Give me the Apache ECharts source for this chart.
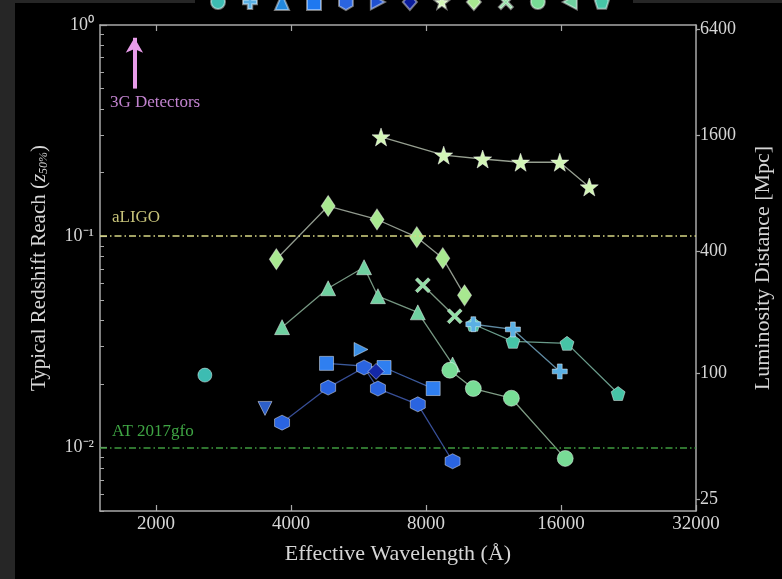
<!DOCTYPE html>
<html>
<head>
<meta charset="utf-8">
<script src="https://cdn.jsdelivr.net/npm/echarts@6/dist/echarts.min.js"></script>
<style>
  html, body { margin: 0; background: #000; }
  #main { width: 782px; height: 579px; }
</style>
</head>
<body>
<div id="main"></div>
<script>
// axis ticks
var xTicks = [2000, 4000, 8000, 16000, 32000];
var yTicks = [0.01, 0.1, 1];
var yMinor = [0.005, 0.006, 0.007, 0.008, 0.009, 0.02, 0.03, 0.04, 0.05, 0.06, 0.07, 0.08, 0.09,
  0.2, 0.3, 0.4, 0.5, 0.6, 0.7, 0.8, 0.9];
var distLabels = ["25", "100", "400", "1600", "6400"];
var distZ = [0.0057, 0.0225, 0.085, 0.30, 0.95];

// reference levels
var aligoZ = 0.1;
var gfoZ = 0.01;
var arrow3G = [[1790, 0.5], [1790, 0.87]];

// series values [wavelength (A), z]
var tealCircle = [[2570, 0.022]];
var plusPts = [[10200, 0.0383], [12500, 0.0362], [15900, 0.0229]];
var downTri = [[3500, 0.0153]];
var squares = [[4800, 0.025], [6450, 0.0239], [8300, 0.019]];
var hexagons = [[3820, 0.0131], [4840, 0.0192], [5820, 0.0239], [6250, 0.019], [7670, 0.016], [9170, 0.0086]];
var rightTri = [[5730, 0.0291]];
var darkDiamond = [[6190, 0.0229]];
var stars = [[6350, 0.295], [8760, 0.242], [10700, 0.232], [13000, 0.224], [15900, 0.224], [18500, 0.171]];
var thinDiamonds = [[3710, 0.0778], [4840, 0.139], [6220, 0.120], [7630, 0.099], [8720, 0.0787], [9750, 0.0525]];
var crosses = [[7870, 0.0586], [9270, 0.0418]];
var greenCircles = [[9040, 0.0232], [10200, 0.019], [12400, 0.0171], [16350, 0.00887]];
var upTri = [[3820, 0.0371], [4840, 0.0567], [5820, 0.0713], [6250, 0.052], [7670, 0.0436], [9170, 0.0247]];
var pentagons = [[10200, 0.0383], [12500, 0.0318], [16500, 0.0311], [21450, 0.018]];

var STAR = "path://M0,-10 L2.35,-3.24 L9.51,-3.09 L3.8,1.24 L5.88,8.09 L0,4 L-5.88,8.09 L-3.8,1.24 L-9.51,-3.09 L-2.35,-3.24 Z";
var HEX = "path://M0,-10 L8.66,-5 L8.66,5 L0,10 L-8.66,5 L-8.66,-5 Z";
var PENT = "path://M0,-10 L9.51,-3.09 L5.88,8.09 L-5.88,8.09 L-9.51,-3.09 Z";
var PLUS = "path://M-3.2,-10 L3.2,-10 L3.2,-3.2 L10,-3.2 L10,3.2 L3.2,3.2 L3.2,10 L-3.2,10 L-3.2,3.2 L-10,3.2 L-10,-3.2 L-3.2,-3.2 Z";
var XMARK = "path://M-7,-10 L0,-3 L7,-10 L10,-7 L3,0 L10,7 L7,10 L0,3 L-7,10 L-10,7 L-3,0 L-10,-7 Z";
var TRI_R = "path://M-8,-9 L9,0 L-8,9 Z";
var TRI_D = "path://M-9,-8 L9,-8 L0,9 Z";
var TRI_L = "path://M8,-9 L8,9 L-9,0 Z";

var serif = "Liberation Serif";
var txt = "#d6d6d6";
var axisCol = "#a8a8a8";

function mk(name, data, color, symbol, size, lineColor) {
  return {
    name: name,
    type: "line",
    data: data,
    symbol: symbol,
    symbolSize: size,
    showSymbol: true,
    z: 3,
    itemStyle: { color: color, borderColor: "rgba(255,255,255,0.45)", borderWidth: 1 },
    lineStyle: { color: lineColor || color, width: 1.3, opacity: 0.75 },
    emphasis: { disabled: true },
    animation: false
  };
}

var series = [
  mk("s1", tealCircle, "#3dbcb2", "circle", 14),
  mk("s13", pentagons, "#46c4a6", PENT, 14, "#8ccfb8"),
  mk("s2", plusPts, "#5ab0e4", PLUS, 15, "#7fb8d8"),
  mk("s3", downTri, "#2d5fc8", TRI_D, 14),
  mk("s4", squares, "#2f7ff0", "rect", 14, "#4f78d0"),
  mk("s5", hexagons, "#2a64e0", HEX, 15, "#4a68c8"),
  mk("s6", rightTri, "#3a8ee4", TRI_R, 14),
  mk("s7", darkDiamond, "#1428a8", "diamond", 16),
  mk("s8", stars, "#d2f5b6", STAR, 18, "#c8d4c0"),
  mk("s9", thinDiamonds, "#a8e890", "diamond", [14, 21], "#c0ccbc"),
  mk("s12", upTri, "#6fd0a0", "triangle", 15, "#9cc8ac"),
  mk("s10", crosses, "#92e0a6", XMARK, 15, "#a8ccb0"),
  mk("s11", greenCircles, "#78dc96", "circle", 16, "#a8d0b0")
];

// reference lines and 3G arrow
series.push({
  name: "refs",
  type: "line",
  data: [],
  animation: false,
  markLine: {
    silent: true,
    symbol: "none",
    label: { show: false },
    data: [
      { yAxis: aligoZ, lineStyle: { color: "#d8d884", width: 1.5, type: [7, 3, 1.5, 3] } },
      { yAxis: gfoZ, lineStyle: { color: "#3f9a3f", width: 1.5, type: [7, 3, 1.5, 3] } },
      [
        { coord: arrow3G[0], symbol: "none", lineStyle: { color: "#e79ce9", width: 4, type: "solid" } },
        { coord: arrow3G[1], symbol: "arrow", symbolSize: [13, 15] }
      ]
    ]
  }
});

var legendItems = [
  { name: "s1", icon: "circle" },
  { name: "s2", icon: PLUS },
  { name: "s3", icon: "triangle", itemStyle: { color: "#2288dd" } },
  { name: "s4", icon: "rect", itemStyle: { color: "#1e78f0" } },
  { name: "s5", icon: HEX },
  { name: "s6", icon: TRI_R, itemStyle: { color: "#1f50d0" } },
  { name: "s7", icon: "diamond", itemStyle: { color: "#0a1c9c" } },
  { name: "s8", icon: STAR },
  { name: "s9", icon: "diamond" },
  { name: "s10", icon: XMARK },
  { name: "s11", icon: "circle" },
  { name: "s12", icon: TRI_L },
  { name: "s13", icon: PENT }
];

function logAxisBase(extra) {
  var a = {
    type: "log",
    min: 0.005,
    max: 1,
    logBase: 10,
    splitLine: { show: false },
    axisLine: { show: true, onZero: false, lineStyle: { color: axisCol, width: 1.5 } },
    axisTick: { show: false },
    axisLabel: { show: false },
    minorTick: { show: false }
  };
  for (var k in extra) a[k] = extra[k];
  return a;
}

function supLabel(v) {
  var e = Math.round(Math.log10(v));
  var sup = { "0": "⁰", "-1": "⁻¹", "-2": "⁻²" };
  return "10" + sup[String(e)];
}

function distLabel(v) {
  var best = 0, bd = Infinity;
  for (var i = 0; i < distZ.length; i++) {
    var d = Math.abs(Math.log(v) - Math.log(distZ[i]));
    if (d < bd) { bd = d; best = i; }
  }
  return distLabels[best];
}

var myChart = echarts.init(document.getElementById("main"));
var option = {
  backgroundColor: "#000",
  animation: false,
  textStyle: { fontFamily: serif },
  grid: { left: 100, right: 83, top: 25, bottom: 68 },
  legend: {
    data: legendItems,
    left: 205,
    top: -12,
    itemWidth: 14,
    itemHeight: 16,
    itemGap: 16,
    formatter: function () { return ""; },
    selectedMode: false,
    symbolRotate: 0,
    lineStyle: { width: 0, opacity: 0 },
    textStyle: { fontSize: 1 }
  },
  xAxis: [
    {
      type: "log",
      logBase: 2,
      min: 1500,
      max: 32000,
      position: "bottom",
      splitLine: { show: false },
      axisLine: { show: true, onZero: false, lineStyle: { color: axisCol, width: 1.5 } },
      axisTick: { show: true, inside: true, length: 6, customValues: xTicks, lineStyle: { color: axisCol, width: 1.2 } },
      axisLabel: {
        show: true, customValues: xTicks, color: txt, fontSize: 19, fontFamily: serif, margin: 4,
        formatter: function (v) { return String(Math.round(v)); }
      },
      name: "Effective Wavelength (Å)",
      nameLocation: "middle",
      nameGap: 32,
      nameTextStyle: { color: txt, fontSize: 22, fontFamily: serif }
    },
    {
      type: "log",
      logBase: 2,
      min: 1500,
      max: 32000,
      position: "top",
      splitLine: { show: false },
      axisLine: { show: true, onZero: false, lineStyle: { color: axisCol, width: 1.5 } },
      axisTick: { show: true, inside: true, length: 6, customValues: xTicks, lineStyle: { color: axisCol, width: 1.2 } },
      axisLabel: { show: false }
    }
  ],
  yAxis: [
    logAxisBase({
      position: "left",
      axisTick: { show: true, inside: true, length: 7, customValues: yTicks, lineStyle: { color: axisCol, width: 1.2 } },
      axisLabel: { show: true, customValues: yTicks, formatter: supLabel, color: txt, fontSize: 18, fontFamily: serif, margin: 6 },
      name: "Typical Redshift Reach ({i|z}{s|50%})",
      nameLocation: "middle",
      nameRotate: 90,
      nameGap: 50,
      nameTextStyle: {
        color: txt, fontSize: 21, fontFamily: serif,
        rich: {
          i: { fontStyle: "italic", fontSize: 21, color: txt, fontFamily: serif },
          s: { fontStyle: "italic", fontSize: 12, color: txt, fontFamily: serif, padding: [8, 0, 0, 0] }
        }
      }
    }),
    logAxisBase({
      position: "left",
      axisLine: { show: false },
      axisTick: { show: true, inside: true, length: 4, customValues: yMinor, lineStyle: { color: axisCol, width: 1 } }
    }),
    logAxisBase({
      position: "right",
      axisTick: { show: true, inside: false, length: 4, customValues: distZ, lineStyle: { color: axisCol, width: 1.2 } },
      axisLabel: { show: true, customValues: distZ, formatter: distLabel, color: txt, fontSize: 18, fontFamily: serif, margin: 4 },
      name: "Luminosity Distance [Mpc]",
      nameLocation: "middle",
      nameRotate: 90,
      nameGap: 56,
      nameTextStyle: { color: txt, fontSize: 22, fontFamily: serif }
    })
  ],
  graphic: [
    { type: "rect", left: 0, top: 0, shape: { width: 15, height: 579 }, style: { fill: "#262626" }, z: 100 },
    { type: "rect", left: 0, top: 0, shape: { width: 195, height: 3 }, style: { fill: "#262626" }, z: 100 },
    { type: "rect", left: 633, top: 0, shape: { width: 149, height: 3 }, style: { fill: "#262626" }, z: 100 },
    { type: "text", left: 110, top: 94, style: { text: "3G Detectors", fill: "#c283cf", font: "17px " + serif }, z: 50 },
    { type: "text", left: 112, top: 209, style: { text: "aLIGO", fill: "#c8c47a", font: "17px " + serif }, z: 50 },
    { type: "text", left: 112, top: 423, style: { text: "AT 2017gfo", fill: "#3fa544", font: "17px " + serif }, z: 50 }
  ],
  series: series
};
myChart.setOption(option);
</script>
</body>
</html>
